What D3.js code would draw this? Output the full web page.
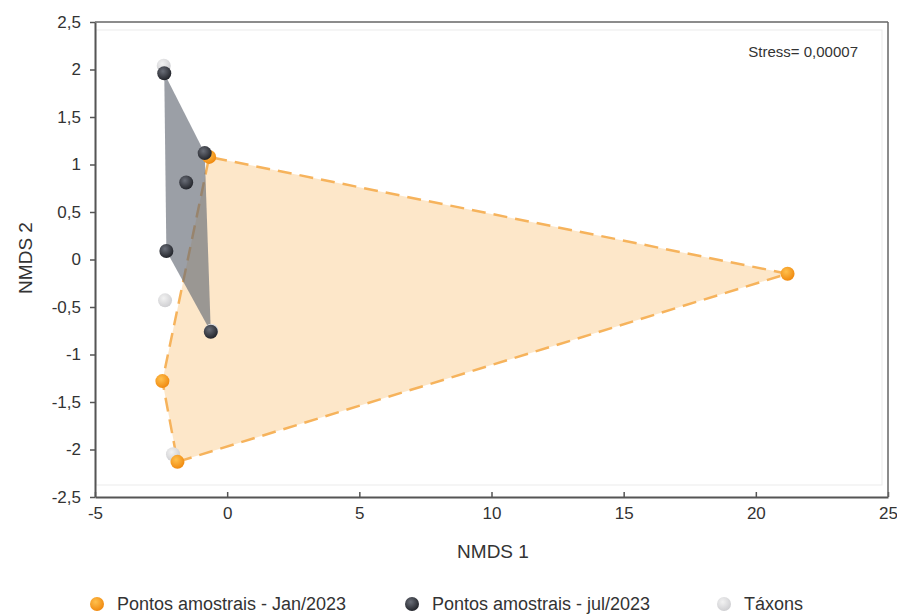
<!DOCTYPE html>
<html><head><meta charset="utf-8">
<script src="https://cdn.jsdelivr.net/npm/d3@7"></script>
<style>body{margin:0;background:#fff;}svg{display:block;font-family:"Liberation Sans",Arial,sans-serif;}</style>
</head><body>
<svg id="c" width="897" height="616"></svg>
<script>
const xTicks = [-5, 0, 5, 10, 15, 20, 25];
const yTicks = [2.5, 2, 1.5, 1, 0.5, 0, -0.5, -1, -1.5, -2, -2.5];
const janX = [21.2, -1.88, -2.45, -0.68];
const janY = [-0.15, -2.13, -1.28, 1.08];
const julX = [-2.38, -0.85, -1.55, -2.3, -0.62];
const julY = [1.96, 1.12, 0.81, 0.09, -0.76];
const taxX = [-2.4, -2.35, -2.05, -0.6];
const taxY = [2.04, -0.43, -2.05, -0.75];
const legendLabels = ["Pontos amostrais - Jan/2023", "Pontos amostrais - jul/2023", "Táxons"];
const stressText = "Stress= 0,00007";

const svg = d3.select("#c");
const x = d3.scaleLinear().domain([-5, 25]).range([95, 888]);
const y = d3.scaleLinear().domain([-2.5, 2.5]).range([497, 22]);
const loc = d3.formatLocale({decimal: ",", thousands: ".", grouping: [3], currency: ["", ""], minus: "-"});
const fmt = loc.format("");

const defs = svg.append("defs");
function grad(id, c0, c1) {
  const g = defs.append("radialGradient").attr("id", id).attr("cx", "40%").attr("cy", "35%").attr("r", "65%");
  g.append("stop").attr("offset", "0%").attr("stop-color", c0);
  g.append("stop").attr("offset", "100%").attr("stop-color", c1);
}
grad("gOr", "#ffc04d", "#f08a10");
grad("gDk", "#6a6e78", "#23252b");
grad("gTx", "#f2f2f2", "#cfcfd2");

// inner faint frame
svg.append("rect").attr("x", 96).attr("y", 30).attr("width", 786).attr("height", 455)
  .attr("fill", "none").attr("stroke", "#ebebeb").attr("stroke-width", 1);

// hulls
const janPts = janX.map((v, i) => [x(v), y(janY[i])]);
const julPts = julX.map((v, i) => [x(v), y(julY[i])]);
const janHull = d3.polygonHull(janPts);
const julHull = d3.polygonHull(julPts);
svg.append("path").attr("d", "M" + janHull.join("L") + "Z")
  .attr("fill", "#fde6c6").attr("fill-opacity", 0.95)
  .attr("stroke", "#f6b35c").attr("stroke-width", 2.5).attr("stroke-dasharray", "14,8");
svg.append("path").attr("d", "M" + julHull.join("L") + "Z")
  .attr("fill", "#666c76").attr("fill-opacity", 0.65).attr("stroke", "none");

// taxa
svg.append("g").selectAll("circle").data(taxX).join("circle")
  .attr("cx", d => x(d)).attr("cy", (d, i) => y(taxY[i])).attr("r", 7)
  .attr("fill", "url(#gTx)");
// Jan points
svg.append("g").selectAll("circle").data(janX).join("circle")
  .attr("cx", d => x(d)).attr("cy", (d, i) => y(janY[i])).attr("r", 7)
  .attr("fill", "url(#gOr)");
// Jul points
svg.append("g").selectAll("circle").data(julX).join("circle")
  .attr("cx", d => x(d)).attr("cy", (d, i) => y(julY[i])).attr("r", 7)
  .attr("fill", "url(#gDk)");

// axes
const ax = svg.append("g").attr("transform", "translate(0,497)")
  .call(d3.axisBottom(x).tickValues(xTicks).tickFormat(fmt).tickSizeInner(-5).tickSizeOuter(0).tickPadding(10));
const ay = svg.append("g").attr("transform", "translate(95,0)")
  .call(d3.axisLeft(y).tickValues(yTicks).tickFormat(fmt).tickSizeInner(5).tickSizeOuter(0).tickPadding(9));
[ax, ay].forEach(g => {
  g.select(".domain").attr("stroke", "#555").attr("stroke-width", 2);
  g.selectAll(".tick line").attr("stroke", "#555").attr("stroke-width", 1.5);
  g.selectAll(".tick text").attr("fill", "#333").style("font-size", "17px").style("font-family", "Liberation Sans, Arial, sans-serif");
});
// top and right frame
svg.append("line").attr("x1", 95).attr("x2", 888).attr("y1", 22).attr("y2", 22).attr("stroke", "#666").attr("stroke-width", 1.5);
svg.append("line").attr("x1", 888).attr("x2", 888).attr("y1", 22).attr("y2", 497).attr("stroke", "#666").attr("stroke-width", 1.5);

// stress
svg.append("text").attr("x", 858).attr("y", 57).attr("text-anchor", "end")
  .style("font-size", "15px").attr("fill", "#333").text(stressText);

// axis titles
svg.append("text").attr("x", 493).attr("y", 558).attr("text-anchor", "middle")
  .style("font-size", "19px").attr("fill", "#333").text("NMDS 1");
svg.append("text").attr("transform", "translate(32,258) rotate(-90)").attr("text-anchor", "middle")
  .style("font-size", "19px").attr("fill", "#333").text("NMDS 2");

// legend
const legX = [97, 412, 724];
const legFill = ["url(#gOr)", "url(#gDk)", "url(#gTx)"];
legendLabels.forEach((t, i) => {
  svg.append("circle").attr("cx", legX[i]).attr("cy", 604).attr("r", 7).attr("fill", legFill[i]);
  svg.append("text").attr("x", legX[i] + 20).attr("y", 610).style("font-size", "18px").attr("fill", "#333").text(t);
});
</script>
</body></html>
